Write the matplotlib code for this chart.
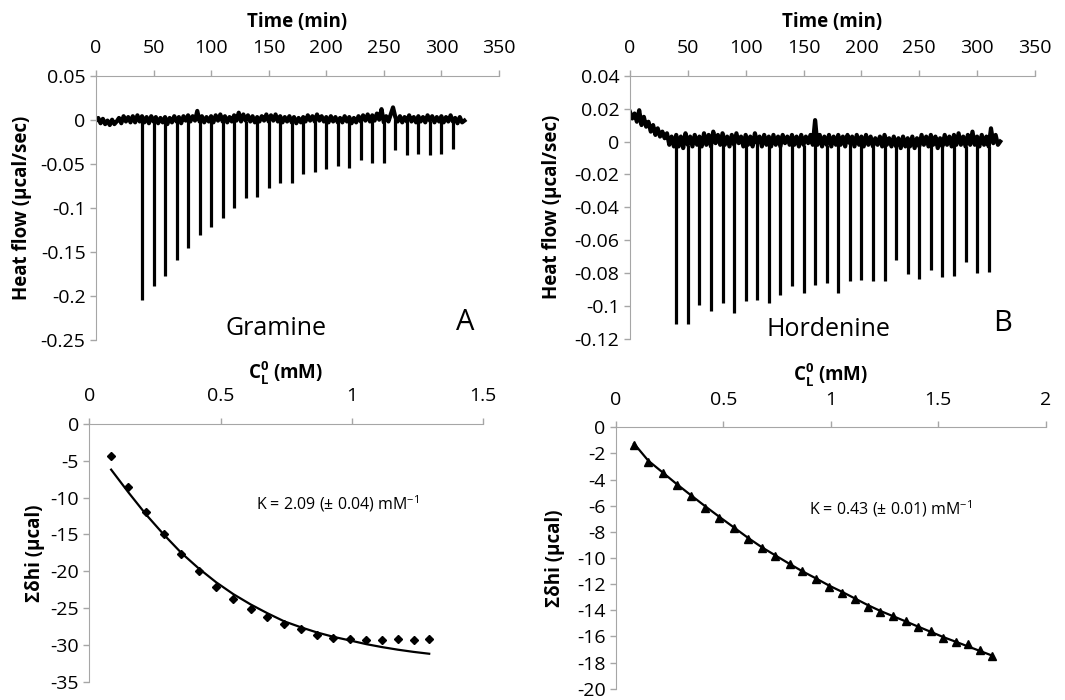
import matplotlib
matplotlib.use('Agg')
import matplotlib.pyplot as plt
from matplotlib.ticker import MultipleLocator, FuncFormatter
import numpy as np

plt.rcParams['font.family'] = ['Open Sans', 'DejaVu Sans']
plt.rcParams['axes.unicode_minus'] = False
plt.rcParams['mathtext.fontset'] = 'custom'
plt.rcParams['mathtext.rm'] = 'Open Sans'
plt.rcParams['mathtext.bf'] = 'Open Sans:bold'

# injection times (min)
inj_time = [40, 50, 60, 70, 80, 90, 100, 110, 120, 130, 140, 150, 160, 170,
            180, 190, 200, 210, 220, 230, 240, 250, 260, 270, 280, 290, 300, 310]

# peak minima (µcal/sec)
gramine_peak = [-0.205, -0.189, -0.177, -0.159, -0.146, -0.131, -0.122, -0.112,
                -0.100, -0.089, -0.088, -0.078, -0.072, -0.072, -0.062, -0.059,
                -0.056, -0.052, -0.055, -0.046, -0.049, -0.049, -0.034, -0.040,
                -0.039, -0.040, -0.039, -0.033]
hordenine_peak = [-0.111, -0.111, -0.0995, -0.103, -0.098, -0.104, -0.097, -0.096,
                  -0.098, -0.093, -0.088, -0.092, -0.087, -0.086, -0.092, -0.0845,
                  -0.084, -0.085, -0.085, -0.072, -0.0805, -0.0835, -0.078, -0.0825,
                  -0.082, -0.073, -0.080, -0.0795]

# baseline read every 2 min from 0 to 320 min
gramine_base = [
    -0.001, 0.002, -0.004, 0.001, -0.005, -0.001, -0.006, 0.000, -0.005, -0.002,
    0.002, -0.004, 0.004, -0.002, 0.003, -0.003, 0.004, -0.003, 0.005, -0.002,
    0.004, -0.003, 0.003, -0.004, 0.004, -0.002, 0.003, -0.004, 0.002, -0.003,
    0.003, -0.005, 0.002, -0.003, 0.004, -0.002, 0.003, -0.004, 0.004, -0.001,
    0.005, -0.002, 0.004, -0.001, 0.010, -0.002, 0.004, -0.003, 0.003, -0.002,
    0.004, -0.003, 0.005, -0.001, 0.006, -0.002, 0.004, -0.003, 0.003, -0.002,
    0.005, -0.001, 0.008, -0.002, 0.006, -0.001, 0.005, -0.002, 0.004, -0.003,
    0.003, -0.002, 0.004, -0.001, 0.006, -0.002, 0.005, -0.001, 0.006, -0.002,
    0.004, -0.003, 0.003, -0.002, 0.004, -0.003, 0.003, -0.004, 0.002, -0.003,
    0.003, -0.002, 0.005, -0.001, 0.004, -0.002, 0.006, -0.001, 0.004, -0.002,
    0.003, -0.003, 0.004, -0.002, 0.003, -0.003, 0.002, -0.003, 0.004, -0.002,
    0.003, -0.004, 0.002, -0.003, 0.004, -0.002, 0.005, -0.001, 0.006, -0.002,
    0.005, -0.001, 0.007, 0.000, 0.012, -0.003, 0.004, -0.002, 0.006, 0.014,
    0.003, -0.002, 0.004, -0.003, 0.003, -0.002, 0.005, -0.002, 0.003, -0.003,
    0.004, -0.002, 0.003, -0.003, 0.005, -0.001, 0.004, -0.003, 0.003, -0.002,
    0.004, -0.003, 0.003, -0.002, 0.005, -0.002, 0.002, -0.004, 0.003, -0.003,
    -0.001]
hordenine_base = [
    0.018, 0.014, 0.017, 0.012, 0.019, 0.010, 0.015, 0.009, 0.012, 0.006,
    0.010, 0.004, 0.008, 0.003, 0.006, 0.002, 0.005, -0.002, 0.003, -0.003,
    0.004, -0.003, 0.003, -0.004, 0.005, -0.002, 0.003, -0.003, 0.004, -0.002,
    0.003, -0.003, 0.005, -0.002, 0.004, -0.003, 0.006, -0.001, 0.004, -0.002,
    0.005, -0.002, 0.003, -0.003, 0.004, -0.002, 0.005, -0.001, 0.003, -0.003,
    0.004, -0.002, 0.003, -0.003, 0.005, -0.001, 0.003, -0.003, 0.004, -0.002,
    0.003, -0.003, 0.004, -0.002, 0.003, -0.003, 0.004, -0.001, 0.003, -0.002,
    0.004, -0.002, 0.003, -0.003, 0.004, -0.002, 0.003, -0.001, 0.004, -0.002,
    0.013, -0.002, 0.004, -0.003, 0.003, -0.002, 0.004, -0.003, 0.003, -0.002,
    0.004, -0.002, 0.003, -0.003, 0.004, -0.001, 0.003, -0.003, 0.004, -0.002,
    0.003, -0.003, 0.004, -0.002, 0.003, -0.003, 0.002, -0.002, 0.003, -0.003,
    0.004, -0.002, 0.002, -0.003, 0.003, -0.003, 0.002, -0.004, 0.003, -0.003,
    0.002, -0.003, 0.003, -0.004, 0.002, -0.003, 0.004, -0.002, 0.003, -0.003,
    0.004, -0.002, 0.003, -0.004, 0.002, -0.003, 0.004, -0.002, 0.003, -0.003,
    0.004, -0.002, 0.005, -0.002, 0.003, -0.003, 0.004, -0.002, 0.006, -0.002,
    0.003, -0.003, 0.004, -0.002, 0.003, -0.003, 0.008, -0.001, 0.004, -0.002,
    0.000]

# cumulative heat vs total ligand concentration
conc_g = [0.083, 0.149, 0.216, 0.283, 0.350, 0.416, 0.483, 0.548, 0.614, 0.678,
          0.742, 0.805, 0.866, 0.929, 0.993, 1.055, 1.115, 1.175, 1.235, 1.294]
heat_g = [-4.4, -8.5, -11.9, -14.95, -17.7, -20.0, -22.2, -23.8, -25.1, -26.2,
          -27.2, -27.9, -28.6, -29.0, -29.2, -29.3, -29.3, -29.2, -29.3, -29.2]
fit_g = [-6.2, -9.3, -12.3, -15.0, -17.5, -19.6, -21.5, -23.1, -24.5, -25.7,
         -26.8, -27.6, -28.3, -28.9, -29.4, -29.9, -30.3, -30.65, -30.95, -31.2]

conc_h = [0.084, 0.150, 0.217, 0.283, 0.349, 0.416, 0.481, 0.548, 0.614, 0.681,
          0.742, 0.808, 0.866, 0.930, 0.991, 1.054, 1.113, 1.172, 1.231, 1.290,
          1.349, 1.407, 1.466, 1.524, 1.581, 1.637, 1.693, 1.749]
heat_h = [-1.38, -2.67, -3.52, -4.43, -5.23, -6.16, -6.92, -7.70, -8.55, -9.26,
          -9.81, -10.47, -11.0, -11.57, -12.2, -12.68, -13.16, -13.71, -14.11, -14.47,
          -14.8, -15.3, -15.6, -16.1, -16.4, -16.6, -17.0, -17.5]
fit_h = [-1.25, -2.55, -3.45, -4.35, -5.2, -6.05, -6.85, -7.65, -8.45, -9.2,
         -9.8, -10.45, -11.0, -11.55, -12.1, -12.6, -13.1, -13.6, -14.05, -14.45,
         -14.85, -15.25, -15.65, -16.05, -16.4, -16.75, -17.1, -17.45]

grey = '#a6a6a6'
fmt = FuncFormatter(lambda v, p: '%g' % (round(v, 6) + 0.0))


def style(ax):
    ax.spines['right'].set_visible(False)
    ax.spines['bottom'].set_visible(False)
    ax.spines['left'].set_color(grey)
    ax.spines['top'].set_color(grey)
    ax.xaxis.tick_top()
    ax.xaxis.set_label_position('top')
    ax.tick_params(color=grey, direction='out', length=4.5, width=1, labelsize=14)
    ax.tick_params(axis='x', pad=9)
    ax.tick_params(axis='y', pad=3)
    ax.xaxis.set_major_formatter(fmt)
    ax.yaxis.set_major_formatter(fmt)


fig = plt.figure(figsize=(10.65, 7.0), dpi=100)
axA = fig.add_axes([0.0901, 0.5143, 0.3784, 0.3776])
axB = fig.add_axes([0.5915, 0.5157, 0.3803, 0.3762])
axC = fig.add_axes([0.0839, 0.0261, 0.3699, 0.3682])
axD = fig.add_axes([0.5784, 0.016, 0.4035, 0.3736])

# thermograms
for ax, base, peak in [(axA, gramine_base, gramine_peak), (axB, hordenine_base, hordenine_peak)]:
    bt = np.linspace(0, 320, len(base))
    ax.plot(bt, base, color='k', lw=3.0)
    ax.vlines(inj_time, np.interp(inj_time, bt, base), peak, color='k', lw=2.3)
    style(ax)
    ax.set_xlim(0, 350)
    ax.xaxis.set_major_locator(MultipleLocator(50))
    ax.set_xlabel('Time (min)', fontsize=13.5, fontweight='bold', va='center')
    ax.set_ylabel('Heat flow (µcal/sec)', fontsize=13.5, fontweight='bold', va='center')

axA.set_ylim(-0.25, 0.05)
axA.yaxis.set_major_locator(MultipleLocator(0.05))
axB.set_ylim(-0.12, 0.04)
axB.yaxis.set_major_locator(MultipleLocator(0.02))
axA.xaxis.set_label_coords(0.5, 1.2045)
axB.xaxis.set_label_coords(0.498, 1.2045)
axA.yaxis.set_label_coords(-0.184, 0.5)
axB.yaxis.set_label_coords(-0.193, 0.5)

axA.text(0.448, 0.045, 'Gramine', transform=axA.transAxes, ha='center', va='center', fontsize=18)
axA.text(0.916, 0.065, 'A', transform=axA.transAxes, ha='center', va='center', fontsize=21)
axB.text(0.49, 0.035, 'Hordenine', transform=axB.transAxes, ha='center', va='center', fontsize=18)
axB.text(0.92, 0.058, 'B', transform=axB.transAxes, ha='center', va='center', fontsize=21)

# binding isotherms
axC.plot(conc_g, fit_g, color='k', lw=1.6)
axC.plot(conc_g, heat_g, 'D', color='k', ms=4.5, ls='none')
axD.plot(conc_h, fit_h, color='k', lw=1.6)
axD.plot(conc_h, heat_h, '^', color='k', ms=6, ls='none')

for ax in (axC, axD):
    style(ax)
    ax.xaxis.set_major_locator(MultipleLocator(0.5))
    ax.set_xlabel(r'$\mathbf{C^{0}_{L}}$ (mM)', fontsize=13.5, fontweight='bold', va='center')
    ax.set_ylabel('Σδhi (µcal)', fontsize=13.5, fontweight='bold', va='center')

axC.set_xlim(0, 1.5)
axC.set_ylim(-35, 0)
axC.yaxis.set_major_locator(MultipleLocator(5))
axD.set_xlim(0, 2)
axD.set_ylim(-20, 0)
axD.yaxis.set_major_locator(MultipleLocator(2))
axC.xaxis.set_label_coords(0.497, 1.198)
axD.xaxis.set_label_coords(0.498, 1.2)
axC.yaxis.set_label_coords(-0.138, 0.5)
axD.yaxis.set_label_coords(-0.142, 0.5)

axC.text(0.63, 0.69, r'K = 2.09 (± 0.04) mM$^{\mathregular{-1}}$', transform=axC.transAxes,
         ha='center', va='center', fontsize=11.5)
axD.text(0.64, 0.69, r'K = 0.43 (± 0.01) mM$^{\mathregular{-1}}$', transform=axD.transAxes,
         ha='center', va='center', fontsize=11.5)

fig.savefig('out.png', dpi=100)
